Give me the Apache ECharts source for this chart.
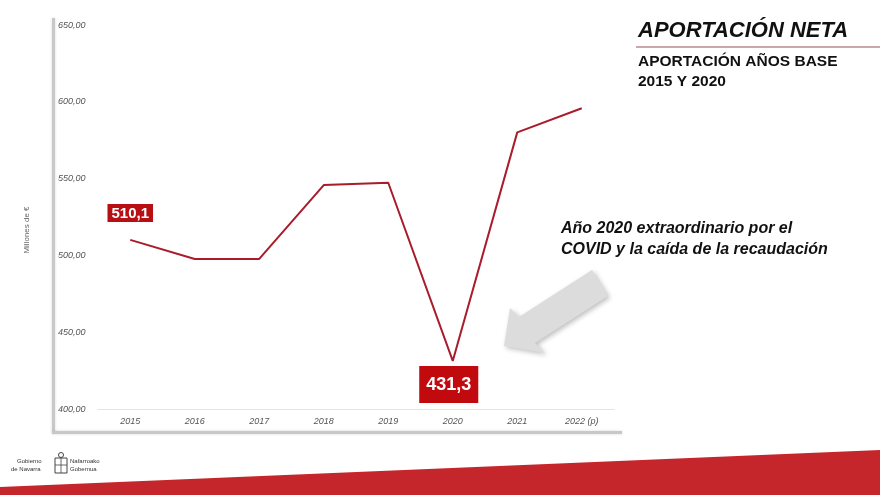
<!DOCTYPE html>
<html>
<head>
<meta charset="utf-8">
<script src="https://cdn.jsdelivr.net/npm/echarts@6/dist/echarts.min.js"></script>
<style>html,body{margin:0;padding:0;background:#fff}#c{width:880px;height:495px}</style>
</head>
<body>
<div id="c"></div>
<script>
const categories = ['2015','2016','2017','2018','2019','2020','2021','2022 (p)'];
const values = [510.1, 497.7, 497.7, 545.8, 547.3, 431.3, 580.1, 595.8];
const yTicks = {min: 400, max: 650, interval: 50};
const valueLabels = {0: '510,1', 5: '431,3'};

const FONT = '"Liberation Sans", Arial, sans-serif';
const RED = '#a81c2b';
const chart = echarts.init(document.getElementById('c'));

const seriesData = values.map((v, i) => {
  const item = {value: v};
  if (i === 0) {
    item.label = {show: true, position: 'top', distance: 18, formatter: valueLabels[0],
      backgroundColor: '#b80f14', color: '#fff', fontWeight: 'bold', fontSize: 15,
      fontFamily: FONT, padding: [2, 4, 1, 4]};
  } else if (i === 5) {
    item.label = {show: true, position: 'bottom', distance: 5, offset: [-4, 0], formatter: valueLabels[5],
      backgroundColor: '#c00a0e', color: '#fff', fontWeight: 'bold', fontSize: 18,
      fontFamily: FONT, padding: [10, 7, 9, 7]};
  }
  return item;
});

chart.setOption({
  animation: false,
  backgroundColor: '#fff',
  grid: {left: 98, top: 25, width: 516, height: 384},
  xAxis: {
    type: 'category', data: categories, boundaryGap: true,
    axisLine: {show: true, lineStyle: {color: '#e4e4e4', width: 1}},
    axisTick: {show: false},
    axisLabel: {color: '#555', fontStyle: 'italic', fontSize: 9, fontFamily: FONT, margin: 8}
  },
  yAxis: {
    type: 'value', min: yTicks.min, max: yTicks.max, interval: yTicks.interval,
    axisLine: {show: false}, axisTick: {show: false}, splitLine: {show: false},
    axisLabel: {color: '#555', fontStyle: 'italic', fontSize: 9, fontFamily: FONT, align: 'left', margin: 40,
      formatter: v => v.toFixed(2).replace('.', ',')}
  },
  series: [{
    type: 'line', data: seriesData, showSymbol: true, symbol: 'circle', symbolSize: 0.01,
    lineStyle: {color: RED, width: 2}, itemStyle: {color: RED}, label: {show: false}
  }],
  graphic: [
    // axis name
    {type: 'text', x: 27, y: 230, rotation: Math.PI / 2, style: {text: 'Millones de €', fill: '#666', font: '8px ' + FONT, align: 'center', verticalAlign: 'middle'}},
    // frame
    {type: 'rect', shape: {x: 52, y: 18, width: 3, height: 415}, style: {fill: '#c8c8c8', shadowBlur: 3, shadowColor: 'rgba(0,0,0,0.15)'}},
    {type: 'rect', shape: {x: 52, y: 431, width: 570, height: 3}, style: {fill: '#c8c8c8', shadowBlur: 3, shadowColor: 'rgba(0,0,0,0.15)'}},
    // titles
    {type: 'text', left: 638, top: 20, style: {text: 'APORTACIÓN NETA', fill: '#111', font: 'italic bold 22px ' + FONT}},
    {type: 'line', shape: {x1: 636, y1: 47, x2: 880, y2: 47}, style: {stroke: '#b88a8c', lineWidth: 1.5}},
    {type: 'text', left: 638, top: 54, style: {text: 'APORTACIÓN AÑOS BASE', fill: '#111', font: 'bold 15.5px ' + FONT}},
    {type: 'text', left: 638, top: 74, style: {text: '2015 Y 2020', fill: '#111', font: 'bold 15.5px ' + FONT}},
    // annotation
    {type: 'text', left: 561, top: 218, style: {text: 'Año 2020 extraordinario por el\nCOVID y la caída de la recaudación', fill: '#111', font: 'italic bold 16px ' + FONT, lineHeight: 21}},
    // arrow
    {type: 'polygon', shape: {points: [[504, 346], [510, 308], [519, 317], [592, 270], [608, 296], [535, 343], [545, 353]]},
      style: {fill: '#dcdcdc', shadowBlur: 5, shadowOffsetX: 2, shadowOffsetY: 2, shadowColor: 'rgba(0,0,0,0.25)'}},
    // bottom band
    {type: 'polygon', shape: {points: [[0, 487], [880, 450], [880, 495], [0, 495]]}, style: {fill: '#c4262b'}},
    // logo
    {type: 'text', left: 17, top: 458, style: {text: 'Gobierno', fill: '#333', font: '6px ' + FONT}},
    {type: 'text', left: 11, top: 466, style: {text: 'de Navarra', fill: '#333', font: '6px ' + FONT}},
    {type: 'rect', shape: {x: 55, y: 458, width: 12, height: 15}, style: {fill: 'none', stroke: '#444', lineWidth: 1}},
    {type: 'line', shape: {x1: 55, y1: 465, x2: 67, y2: 465}, style: {stroke: '#444', lineWidth: 0.8}},
    {type: 'line', shape: {x1: 61, y1: 458, x2: 61, y2: 473}, style: {stroke: '#444', lineWidth: 0.8}},
    {type: 'circle', shape: {cx: 61, cy: 455, r: 2.5}, style: {fill: 'none', stroke: '#444', lineWidth: 1}},
    {type: 'text', left: 70, top: 458, style: {text: 'Nafarroako', fill: '#333', font: '6px ' + FONT}},
    {type: 'text', left: 70, top: 466, style: {text: 'Gobernua', fill: '#333', font: '6px ' + FONT}}
  ]
});
</script>
</body>
</html>
